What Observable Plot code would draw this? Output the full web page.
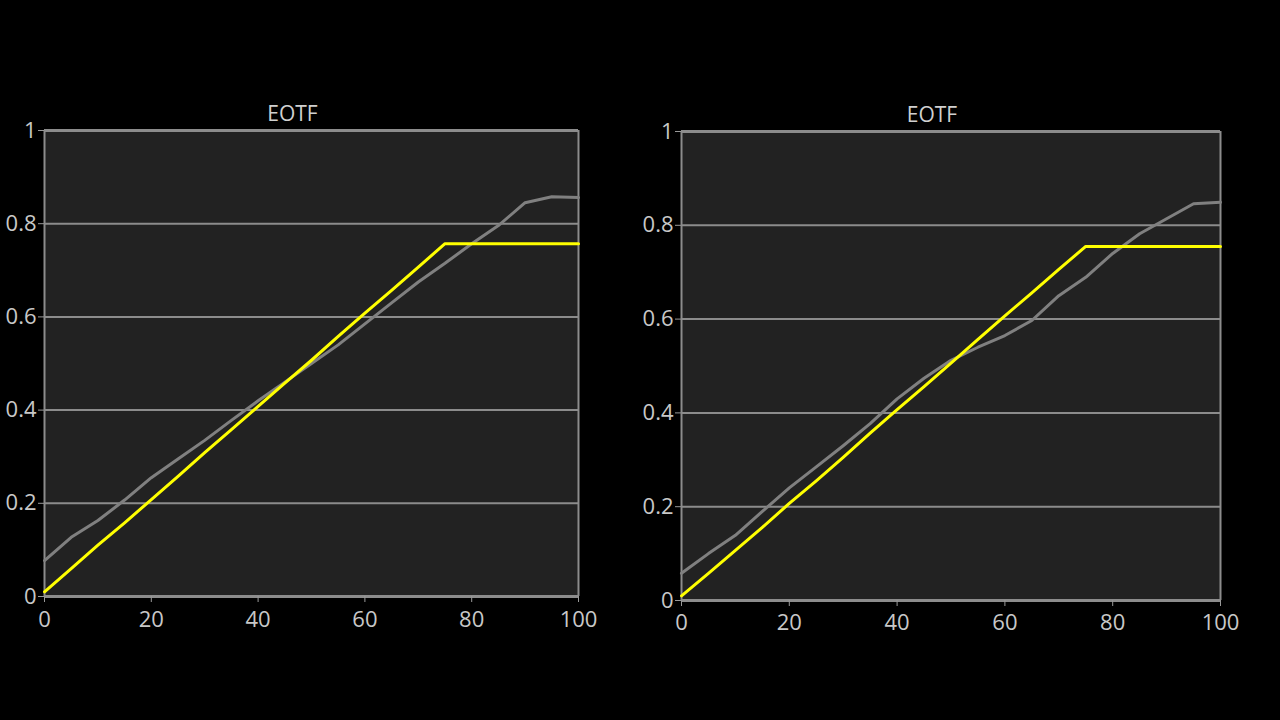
<!DOCTYPE html>
<html>
<head>
<meta charset="utf-8">
<script src="https://cdn.jsdelivr.net/npm/d3@7"></script>
<script src="https://cdn.jsdelivr.net/npm/@observablehq/plot@0.6"></script>
<style>
  html, body { margin: 0; padding: 0; background: #000; width: 1280px; height: 720px; overflow: hidden; }
  #left { position: absolute; left: 0; top: 90px; }
  #right { position: absolute; left: 637px; top: 90px; }
</style>
</head>
<body>
<div id="left"></div>
<div id="right"></div>
<script>
const xs = [0, 5, 10, 15, 20, 25, 30, 35, 40, 45, 50, 55, 60, 65, 70, 75, 80, 85, 90, 95, 100];
const leftGray = [0.077, 0.127, 0.163, 0.207, 0.255, 0.295, 0.335, 0.378, 0.42, 0.46, 0.50, 0.54, 0.585, 0.63, 0.675, 0.715, 0.757, 0.796, 0.845, 0.858, 0.856];
const leftYellow = [0.01, 0.06, 0.11, 0.158, 0.208, 0.258, 0.309, 0.358, 0.408, 0.458, 0.507, 0.558, 0.608, 0.657, 0.707, 0.757, 0.757, 0.757, 0.757, 0.757, 0.757];
const rightGray = [0.058, 0.10, 0.139, 0.19, 0.24, 0.285, 0.33, 0.377, 0.43, 0.474, 0.512, 0.54, 0.565, 0.597, 0.65, 0.689, 0.74, 0.782, 0.814, 0.846, 0.849];
const rightYellow = [0.01, 0.058, 0.107, 0.156, 0.207, 0.255, 0.305, 0.357, 0.407, 0.456, 0.506, 0.557, 0.607, 0.656, 0.706, 0.755, 0.755, 0.755, 0.755, 0.755, 0.755];
const xTicks = [0, 20, 40, 60, 80, 100];
const yTicks = [0, 0.2, 0.4, 0.6, 0.8, 1];
const yTickLabels = ["0", "0.2", "0.4", "0.6", "0.8", "1"];
const title = "EOTF";

function panel(gray, yellow, m) {
  const g = xs.map((x, i) => ({x, y: gray[i]}));
  const yl = xs.map((x, i) => ({x, y: yellow[i]}));
  return Plot.plot({
    width: m.width,
    height: 550,
    marginLeft: m.left,
    marginRight: m.right,
    marginTop: m.top,
    marginBottom: m.bottom,
    style: {background: "transparent", color: "#c8c8c8", fontSize: "22px", fontFamily: "Open Sans, sans-serif", overflow: "visible"},
    x: {domain: [0, 100], ticks: xTicks, label: null},
    y: {domain: [0, 1], ticks: yTicks, label: null},
    marks: [
      Plot.frame({fill: "#222222", stroke: null}),
      Plot.ruleY(yTicks, {stroke: "#8c8c8c", strokeWidth: 2}),
      Plot.ruleX([0, 100], {stroke: "#8c8c8c", strokeWidth: 2}),
      Plot.ruleY([0, 1], {stroke: "#8c8c8c", strokeWidth: 3}),
      Plot.axisX({ticks: xTicks, tickSize: 6, tickPadding: m.xpad, stroke: "#999", fill: "#c8c8c8", fontSize: 22, label: null}),
      Plot.axisY({ticks: yTicks, tickSize: 6, tickPadding: 2, stroke: "#999", fill: "#c8c8c8", fontSize: 22, label: null,
                  tickFormat: d => yTickLabels[yTicks.indexOf(d)]}),
      Plot.line(g, {x: "x", y: "y", stroke: "#808080", strokeWidth: 3}),
      Plot.line(yl, {x: "x", y: "y", stroke: "#ffff00", strokeWidth: 3}),
      Plot.text([title], {frameAnchor: "top", dx: -19, dy: -10, text: d => d, fill: "#d0d0d0", fontSize: 21, lineAnchor: "bottom"})
    ]
  });
}

document.getElementById("left").append(panel(leftGray, leftYellow, {width: 620, left: 44, right: 42, top: 40, bottom: 44, xpad: 9}));
document.getElementById("right").append(panel(rightGray, rightYellow, {width: 620, left: 44, right: 37, top: 41, bottom: 40, xpad: 8}));
</script>
</body>
</html>
